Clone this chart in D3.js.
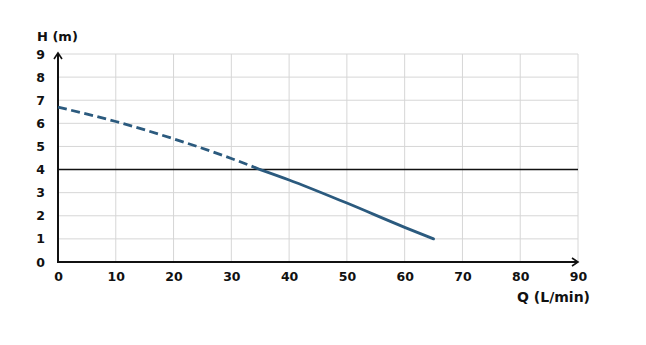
<!DOCTYPE html>
<html><head><meta charset="utf-8">
<script src="https://cdn.jsdelivr.net/npm/d3@7"></script>
<style>body{margin:0;background:#fff}svg{display:block}text{font-family:"DejaVu Sans",sans-serif;font-weight:bold;fill:#111}</style>
</head><body><svg id="c" width="646" height="345"></svg>
<script>
const xTicks = [0,10,20,30,40,50,60,70,80,90];
const yTicks = [0,1,2,3,4,5,6,7,8,9];
const dashedQ = [0,10,20,30,35];
const dashedH = [6.7,6.08,5.33,4.48,4.0];
const solidQ = [35,40,50,60,65];
const solidH = [4.0,3.55,2.55,1.5,1.0];
const refH = 4;

const svg = d3.select("#c");
const x = d3.scaleLinear().domain([0,90]).range([58,578]);
const y = d3.scaleLinear().domain([0,9]).range([262,54]);
const F = "'DejaVu Sans',sans-serif";

svg.append("g").selectAll("line").data(xTicks.slice(1)).join("line")
  .attr("x1",d=>x(d)).attr("x2",d=>x(d)).attr("y1",y(0)).attr("y2",y(9))
  .attr("stroke","#d6d6d6").attr("stroke-width",1);
svg.append("g").selectAll("line").data(yTicks.slice(1)).join("line")
  .attr("x1",x(0)).attr("x2",x(90)).attr("y1",d=>y(d)).attr("y2",d=>y(d))
  .attr("stroke","#d6d6d6").attr("stroke-width",1);

svg.append("line").attr("x1",x(0)).attr("x2",x(90)).attr("y1",y(refH)).attr("y2",y(refH))
  .attr("stroke","#111").attr("stroke-width",1.5);

const xAxis = d3.axisBottom(x).tickValues(xTicks).tickSize(0).tickPadding(10);
const gx = svg.append("g").attr("transform",`translate(0,${y(0)})`).call(xAxis);
gx.select(".domain").remove();
gx.selectAll("text").attr("font-size",12.5).style("font-family",F).style("font-weight","bold").attr("fill","#111");
const yAxis = d3.axisLeft(y).tickValues(yTicks).tickSize(0).tickPadding(13);
const gy = svg.append("g").attr("transform",`translate(${x(0)},0)`).call(yAxis);
gy.select(".domain").remove();
gy.selectAll("text").attr("font-size",12.5).style("font-family",F).style("font-weight","bold").attr("fill","#111");

svg.append("line").attr("x1",x(0)-1).attr("x2",x(90)-1).attr("y1",y(0)).attr("y2",y(0)).attr("stroke","#111").attr("stroke-width",2);
svg.append("line").attr("x1",x(0)).attr("x2",x(0)).attr("y1",y(0)+1).attr("y2",y(9)-1).attr("stroke","#111").attr("stroke-width",2);
svg.append("path").attr("d",`M${x(90)-6},${y(0)-4} L${x(90)},${y(0)} L${x(90)-6},${y(0)+4}`).attr("fill","none").attr("stroke","#111").attr("stroke-width",1.6);
svg.append("path").attr("d",`M${x(0)-4},${y(9)+5} L${x(0)},${y(9)-1} L${x(0)+4},${y(9)+5}`).attr("fill","none").attr("stroke","#111").attr("stroke-width",1.6);

const line = d3.line().x(d=>x(d[0])).y(d=>y(d[1])).curve(d3.curveMonotoneX);
svg.append("path").datum(dashedQ.map((q,i)=>[q,dashedH[i]])).attr("d",line)
  .attr("fill","none").attr("stroke","#2b5a7e").attr("stroke-width",2.8).attr("stroke-dasharray","9,4.5");
svg.append("path").datum(solidQ.map((q,i)=>[q,solidH[i]])).attr("d",line)
  .attr("fill","none").attr("stroke","#2b5a7e").attr("stroke-width",2.8).attr("stroke-linecap","round");

svg.append("text").attr("x",37).attr("y",41).attr("font-size",13).text("H (m)");
svg.append("text").attr("x",590).attr("y",302).attr("text-anchor","end").attr("font-size",14).text("Q (L/min)");
</script></body></html>
